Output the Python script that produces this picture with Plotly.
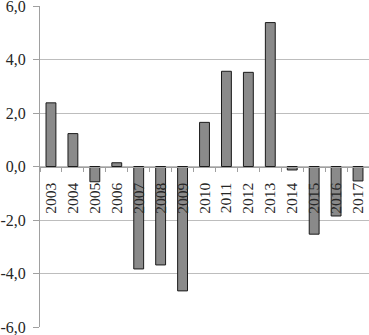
import plotly.graph_objects as go

years = [str(y) for y in range(2003, 2018)]
values = [2.38, 1.23, -0.57, 0.14, -3.83, -3.68, -4.65, 1.65, 3.56, 3.52, 5.38, -0.13, -2.53, -1.85, -0.54]
y_ticks = [-6, -4, -2, 0, 2, 4, 6]
y_labels = ["-6,0", "-4,0", "-2,0", "0,0", "2,0", "4,0", "6,0"]

font = "Liberation Serif, serif"

fig = go.Figure(go.Bar(
    x=years, y=values,
    marker=dict(color="#8a8a8a", line=dict(color="#1a1a1a", width=1)),
))

fig.update_layout(
    width=369, height=335,
    margin=dict(l=40, r=0, t=6, b=8),
    paper_bgcolor="white", plot_bgcolor="white",
    bargap=0.55,
    showlegend=False,
    font=dict(family=font, size=14, color="#262626"),
)
fig.update_yaxes(
    range=[-6, 6], tickvals=y_ticks, ticktext=y_labels,
    showgrid=True, gridcolor="#bdbdbd", gridwidth=1,
    showline=True, linecolor="#a0a0a0", linewidth=1,
    zeroline=False, automargin=False, ticklabeloverflow="allow",
    ticks="outside", ticklen=6, tickcolor="#a0a0a0",
    ticklabelstandoff=4,
    tickfont=dict(family=font, size=16, color="#262626"),
)
fig.update_xaxes(
    anchor="free", position=0.5, automargin=False, ticklabeloverflow="allow",
    showline=True, linecolor="#a0a0a0", linewidth=1,
    tickson="boundaries", ticks="outside", ticklen=4, tickcolor="#a0a0a0",
    tickangle=-90, showgrid=False, ticklabelstandoff=9,
    tickfont=dict(family=font, size=15.5, color="#262626"),
)

fig.write_html("out.html", config={"displayModeBar": False},
               post_script="document.body.style.margin='0';")
